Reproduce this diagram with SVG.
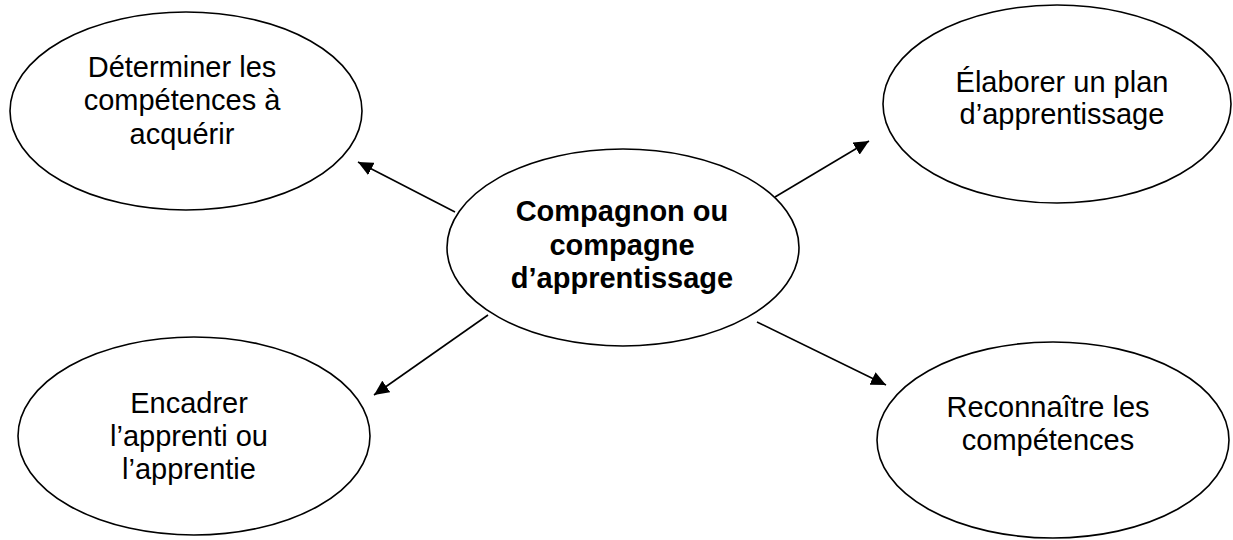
<svg xmlns="http://www.w3.org/2000/svg" width="1233" height="540" viewBox="0 0 1233 540">
<defs>
<style>
.node ellipse{fill:#fff;stroke:#000;stroke-width:1.6}
.t{font-family:"Liberation Sans",Arial,sans-serif;font-size:29px;fill:#000;text-anchor:middle}
.b{font-weight:bold}
.conn line{stroke:#000;stroke-width:1.6}
</style>
<marker id="ah" markerWidth="16" markerHeight="14" refX="15" refY="7" orient="auto" markerUnits="userSpaceOnUse">
<path d="M0,0 L15,7 L0,14 z" fill="#000"/>
</marker>
</defs>
<rect width="1233" height="540" fill="#fff"/>
<g id="connectors" class="conn">
<line x1="455" y1="212" x2="358" y2="162" marker-end="url(#ah)"/>
<line x1="775" y1="197" x2="869" y2="141" marker-end="url(#ah)"/>
<line x1="488" y1="315" x2="374" y2="395" marker-end="url(#ah)"/>
<line x1="757" y1="322" x2="886" y2="385" marker-end="url(#ah)"/>
</g>
<g id="n-center" class="node">
<ellipse cx="623" cy="247.5" rx="176" ry="98.5"/>
<text class="t b" x="622" y="221">Compagnon ou</text>
<text class="t b" x="622" y="255">compagne</text>
<text class="t b" x="622" y="288">d’apprentissage</text>
</g>
<g id="n-determiner" class="node">
<ellipse cx="186" cy="111" rx="176" ry="99"/>
<text class="t" x="182" y="77">Déterminer les</text>
<text class="t" x="182" y="110">compétences à</text>
<text class="t" x="182" y="144">acquérir</text>
</g>
<g id="n-elaborer" class="node">
<ellipse cx="1057" cy="104" rx="174" ry="99"/>
<text class="t" x="1062" y="92">Élaborer un plan</text>
<text class="t" x="1062" y="124">d’apprentissage</text>
</g>
<g id="n-encadrer" class="node">
<ellipse cx="194" cy="436" rx="176" ry="99"/>
<text class="t" x="189" y="413">Encadrer</text>
<text class="t" x="189" y="446">l’apprenti ou</text>
<text class="t" x="189" y="479">l’apprentie</text>
</g>
<g id="n-reconnaitre" class="node">
<ellipse cx="1053" cy="440" rx="176" ry="98"/>
<text class="t" x="1048" y="417">Reconnaître les</text>
<text class="t" x="1048" y="450">compétences</text>
</g>
</svg>
